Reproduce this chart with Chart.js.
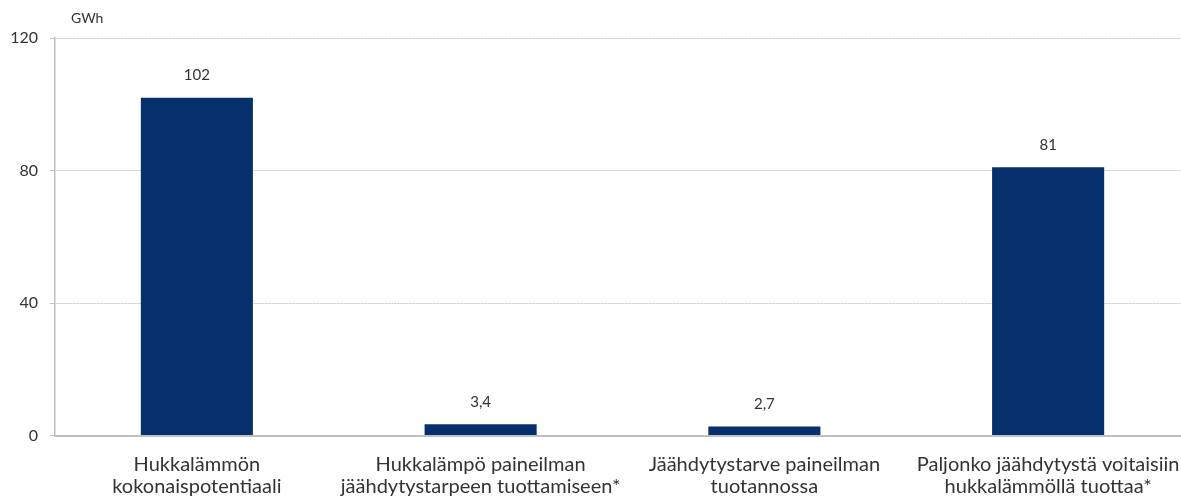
<!DOCTYPE html>
<html lang="fi">
<head>
<meta charset="utf-8">
<title>Hukkalämpö ja jäähdytys</title>
<script src="https://cdn.jsdelivr.net/npm/chart.js@4/dist/chart.umd.min.js"></script>
<style>
  html, body { margin: 0; padding: 0; background: #ffffff; }
  #frame { width: 1181px; height: 498px; overflow: hidden; position: relative; }
  #chart { display: block; }
</style>
</head>
<body>
<div id="frame">
  <canvas id="chart" width="1192" height="510"></canvas>
</div>
<script>
// Categories (two-line labels) and values in GWh
const categories = [
  ['Hukkalämmön', 'kokonaispotentiaali'],
  ['Hukkalämpö paineilman', 'jäähdytystarpeen tuottamiseen*'],
  ['Jäähdytystarve paineilman', 'tuotannossa'],
  ['Paljonko jäähdytystä voitaisiin', 'hukkalämmöllä tuottaa*']
];
const values = [102, 3.4, 2.7, 81];
const yTicks = [0, 40, 80, 120];
const unitLabel = 'GWh';

const FONT = 'Lato, "Open Sans", "Liberation Sans", sans-serif';
const TEXT = '#333333';
const GRID = '#c4c4c4';
const BAR = '#06306b';

// Value labels above each bar, Finnish decimal comma
const valueLabels = {
  id: 'valueLabels',
  afterDatasetsDraw(chart) {
    const ctx = chart.ctx;
    const meta = chart.getDatasetMeta(0);
    ctx.save();
    ctx.font = '15px ' + FONT;
    ctx.fillStyle = TEXT;
    ctx.textAlign = 'center';
    ctx.textBaseline = 'middle';
    meta.data.forEach((bar, i) => {
      const txt = String(values[i]).replace('.', ',');
      ctx.fillText(txt, bar.x, bar.y - 22);
    });
    ctx.restore();
  }
};

// Unit caption above the value axis
const unitCaption = {
  id: 'unitCaption',
  afterDraw(chart) {
    const ctx = chart.ctx;
    const area = chart.chartArea;
    ctx.save();
    ctx.font = '14px ' + FONT;
    ctx.fillStyle = TEXT;
    ctx.textAlign = 'left';
    ctx.textBaseline = 'middle';
    ctx.fillText(unitLabel, area.left + 16, area.top - 20);
    ctx.restore();
  }
};

new Chart(document.getElementById('chart'), {
  type: 'bar',
  data: {
    labels: categories,
    datasets: [{
      data: values,
      backgroundColor: BAR,
      borderWidth: 0,
      categoryPercentage: 1,
      barPercentage: 0.395
    }]
  },
  options: {
    responsive: false,
    animation: false,
    layout: { padding: { top: 38, right: 2, left: 0, bottom: 0 } },
    plugins: {
      legend: { display: false },
      tooltip: { enabled: false }
    },
    scales: {
      x: {
        grid: { display: false, drawTicks: false },
        border: { display: true, color: '#bfbfbf', width: 2 },
        ticks: {
          color: TEXT,
          padding: 18,
          maxRotation: 0,
          autoSkip: false,
          font: { family: FONT, size: 20, lineHeight: '22px' }
        },
        afterFit(scale) {
          // labels may overhang the plot edges; keep the plot full width
          scale.height = 74.5;
          scale.paddingLeft = 0;
          scale.paddingRight = 0;
        }
      },
      y: {
        min: 0,
        max: 120,
        afterBuildTicks(scale) { scale.ticks = yTicks.map(v => ({ value: v })); },
        grid: {
          color: GRID,
          lineWidth: 1,
          tickLength: 5,
          drawTicks: true,
          tickColor: GRID
        },
        border: { display: true, color: '#bfbfbf', width: 1.5, dash: [2, 1] },
        ticks: {
          color: TEXT,
          padding: 12,
          font: { family: FONT, size: 16 }
        },
        afterFit(scale) {
          scale.width = 55;
          scale.paddingTop = 0;
          scale.paddingBottom = 0;
        }
      }
    }
  },
  plugins: [valueLabels, unitCaption]
});
</script>
</body>
</html>
